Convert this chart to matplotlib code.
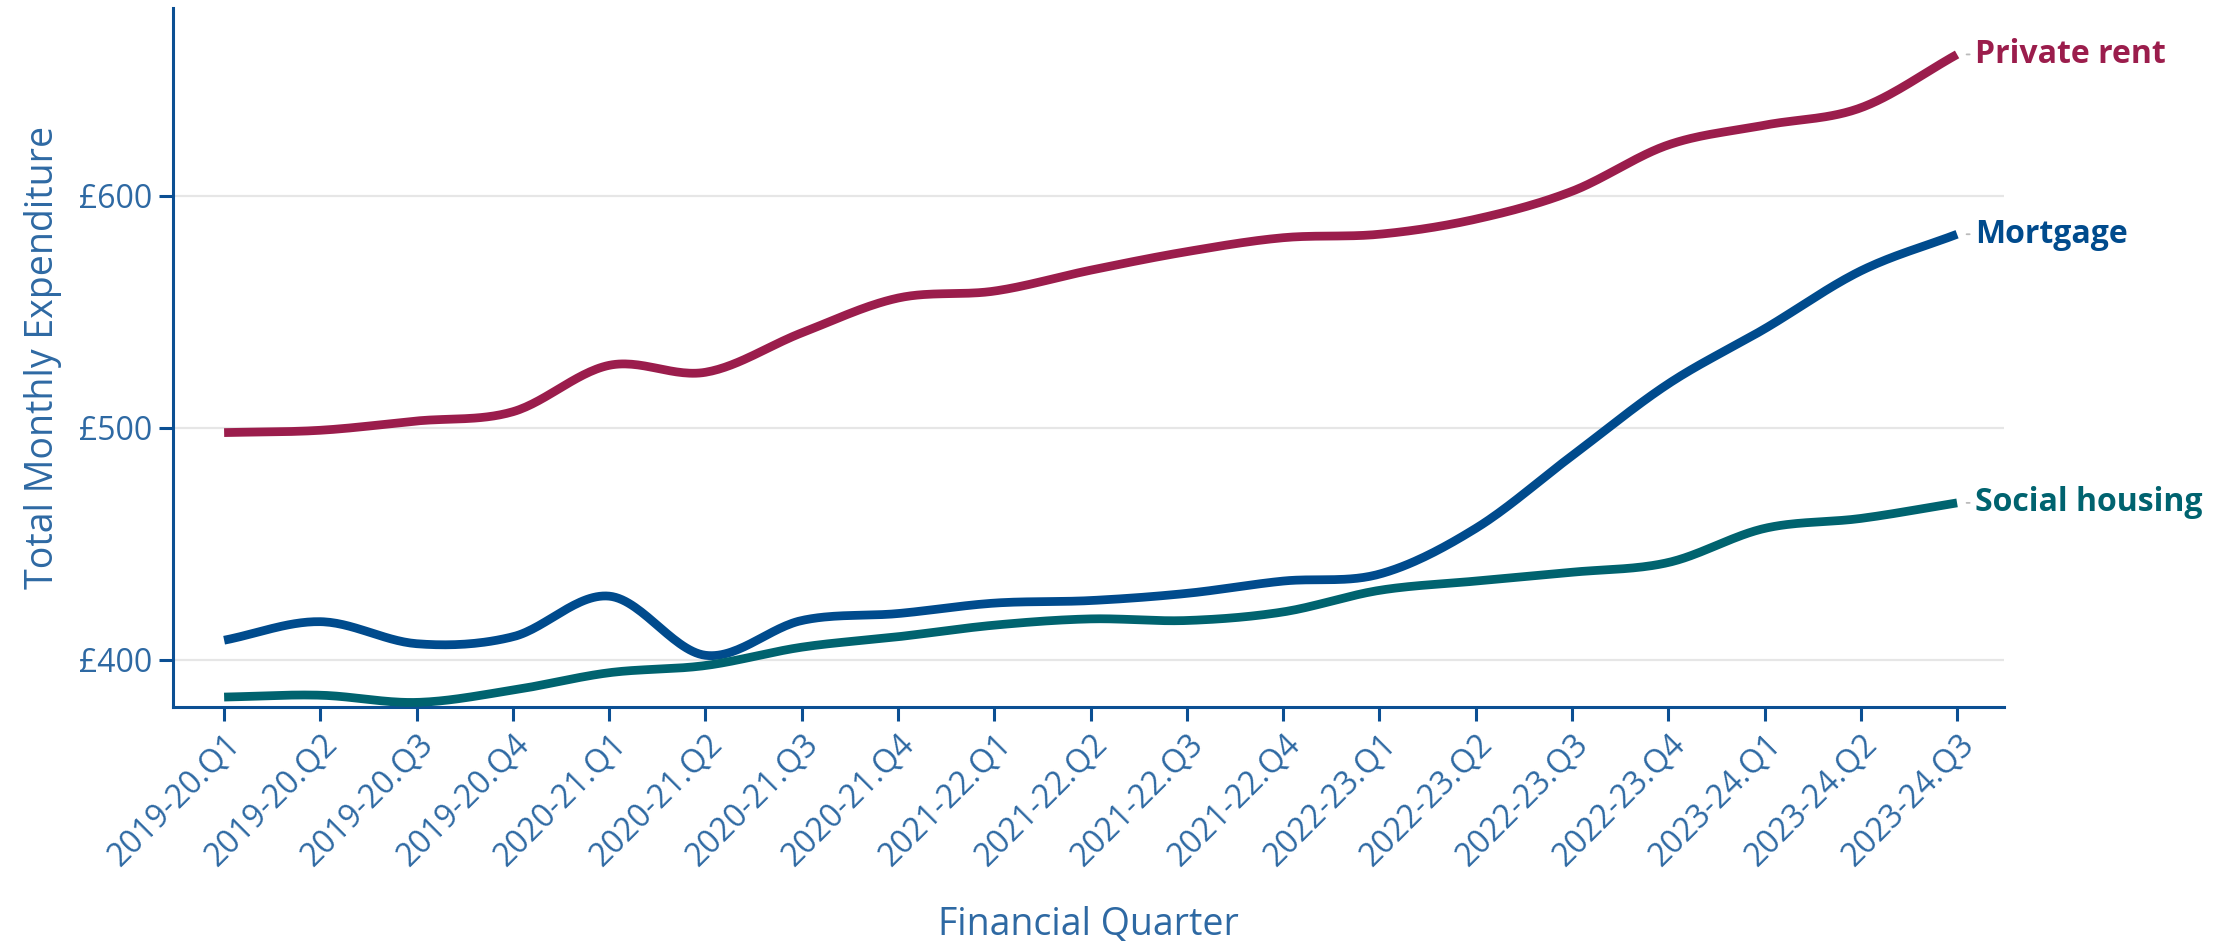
# Import libraries
import numpy as np
import matplotlib
matplotlib.use("Agg")
import matplotlib.pyplot as plt


# Chart data
quarters = [
    "2019-20.Q1", "2019-20.Q2", "2019-20.Q3", "2019-20.Q4",
    "2020-21.Q1", "2020-21.Q2", "2020-21.Q3", "2020-21.Q4",
    "2021-22.Q1", "2021-22.Q2", "2021-22.Q3", "2021-22.Q4",
    "2022-23.Q1", "2022-23.Q2", "2022-23.Q3", "2022-23.Q4",
    "2023-24.Q1", "2023-24.Q2", "2023-24.Q3",
]
private_rent = [498, 499, 503, 507, 527, 524, 541, 556, 559, 568,
                576, 582, 583.5, 590, 602, 622, 630.5, 638, 661]
mortgage = [408.5, 416.5, 407, 410, 427.5, 402, 417, 420, 424.5, 425.6,
            428.7, 434, 437, 456.7, 488, 519, 542.7, 567.7, 583.5]
social_housing = [384, 384.8, 381.7, 387, 394.5, 397.6, 405.5, 410, 415, 417.7,
                  417, 420.7, 430, 434, 437.8, 442, 456.7, 461, 467.7]
series_names = ["Private rent", "Mortgage", "Social housing"]
y_ticks = [400, 500, 600]


# Colours
colors = ["#9b1d4c", "#004b8d", "#00636f"]
axis_color = "#0b4f93"
text_color = "#2e69a3"


def smooth(x, y, steps=30):
    # Catmull-Rom curve through the points (like plotly's spline lines)
    x = np.asarray(x, float)
    y = np.asarray(y, float)
    px = np.concatenate([[2 * x[0] - x[1]], x, [2 * x[-1] - x[-2]]])
    py = np.concatenate([[2 * y[0] - y[1]], y, [2 * y[-1] - y[-2]]])
    xs, ys = [], []
    t = np.linspace(0, 1, steps, endpoint=False)
    for i in range(1, len(px) - 2):
        for p, out in ((px, xs), (py, ys)):
            p0, p1, p2, p3 = p[i - 1], p[i], p[i + 1], p[i + 2]
            out.extend(0.5 * ((2 * p1) + (-p0 + p2) * t
                              + (2 * p0 - 5 * p1 + 4 * p2 - p3) * t ** 2
                              + (-p0 + 3 * p1 - 3 * p2 + p3) * t ** 3))
    xs.append(x[-1])
    ys.append(y[-1])
    return np.array(xs), np.array(ys)


plt.rcParams["font.family"] = ["Open Sans", "DejaVu Sans"]

fig = plt.figure(figsize=(22.22, 9.46), dpi=100)
ax = fig.add_axes([0.0779, 0.2526, 0.8241, 0.7389])

x = np.arange(len(quarters))

# Gridlines
for v in y_ticks:
    ax.axhline(v, color="#e6e6e6", lw=1.6, zorder=0)

# Plot lines with end labels
for name, values, c in zip(series_names, [private_rent, mortgage, social_housing], colors):
    sx, sy = smooth(x, values)
    ax.plot(sx, sy, color=c, lw=6.3, solid_capstyle="butt", zorder=3)
    ax.annotate("", xy=(x[-1] + 0.07, values[-1]), xytext=(x[-1] + 0.16, values[-1]),
                arrowprops=dict(arrowstyle="-", color="#bbbbbb", lw=1.3),
                annotation_clip=False)
    ax.text(x[-1] + 0.19, values[-1], name, color=c, fontsize=23,
            fontweight="bold", va="center", ha="left", clip_on=False)

# Axes styling
ax.set_xlim(-0.53, 18.49)
ax.set_ylim(379.7, 681)
ax.set_xticks(x)
ax.set_xticklabels(quarters, rotation=45, ha="right", rotation_mode="anchor")
ax.set_yticks(y_ticks)
ax.set_yticklabels(["£%d" % v for v in y_ticks])

for s in ["top", "right"]:
    ax.spines[s].set_visible(False)
for s in ["left", "bottom"]:
    ax.spines[s].set_color(axis_color)
    ax.spines[s].set_linewidth(2.2)

ax.tick_params(axis="both", colors=axis_color, width=2.2, length=10,
               labelcolor=text_color, labelsize=23, pad=5)

# Graph labels
ax.set_xlabel("Financial Quarter", color=text_color, fontsize=27, labelpad=24)
ax.set_ylabel("Total Monthly Expenditure", color=text_color, fontsize=27, labelpad=12)

# Save graph
fig.savefig("out.png", dpi=100)
